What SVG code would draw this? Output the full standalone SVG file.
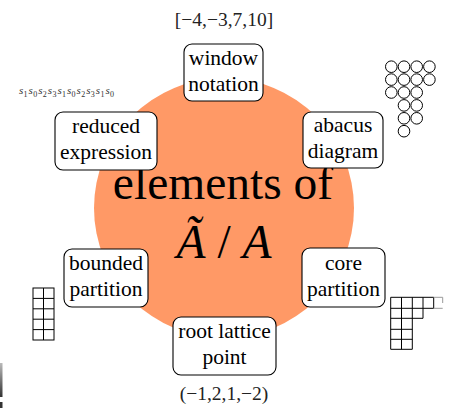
<svg xmlns="http://www.w3.org/2000/svg" width="449" height="408" viewBox="0 0 449 408">
<style>
.box{fill:#fff;stroke:#000;stroke-width:1.1}
.lbl{font-family:"Liberation Serif","Times New Roman",serif;font-size:21.5px;fill:#000;text-anchor:middle}
.big{font-family:"Liberation Serif","Times New Roman",serif;font-size:47.5px;fill:#000;text-anchor:middle}
.ann{font-family:"Liberation Serif","Times New Roman",serif;font-size:19.5px;fill:#222;text-anchor:middle}
.red{font-family:"Liberation Serif","Times New Roman",serif;font-size:11px;font-style:italic;fill:#333}
.bead{fill:#fff;stroke:#000;stroke-width:1}
.grid{fill:none;stroke:#000;stroke-width:1}
</style>
<defs>
<linearGradient id="bar" x1="0" y1="0" x2="0" y2="1">
<stop offset="0" stop-color="#bbb"/><stop offset="1" stop-color="#333"/>
</linearGradient>
</defs>
<rect width="449" height="408" fill="#fff"/>
<circle cx="224" cy="208" r="130" fill="#FF9966"/>
<g id="center">
<text class="big" x="223" y="199">elements of</text>
<text class="big" x="224" y="258"><tspan font-style="italic">Ã</tspan> / <tspan font-style="italic">A</tspan></text>
</g>
<g id="connectors"></g>
<g id="window">
<rect class="box" x="184" y="44" width="79" height="57" rx="8"/>
<text class="lbl" x="223.5" y="64.5">window</text>
<text class="lbl" x="223.5" y="90.5">notation</text>
</g>
<g id="reduced">
<rect class="box" x="55" y="112" width="102" height="58" rx="8"/>
<text class="lbl" x="106" y="133">reduced</text>
<text class="lbl" x="106" y="159">expression</text>
</g>
<g id="abacus">
<rect class="box" x="303" y="112" width="80" height="56" rx="8"/>
<text class="lbl" x="343" y="132">abacus</text>
<text class="lbl" x="343" y="158">diagram</text>
</g>
<g id="bounded">
<rect class="box" x="64" y="249" width="84" height="58" rx="8"/>
<text class="lbl" x="106" y="270">bounded</text>
<text class="lbl" x="106" y="296">partition</text>
</g>
<g id="core">
<rect class="box" x="302" y="248" width="83" height="59" rx="8"/>
<text class="lbl" x="343.5" y="269.5">core</text>
<text class="lbl" x="343.5" y="295.5">partition</text>
</g>
<g id="root">
<rect class="box" x="173" y="317" width="103" height="58" rx="8"/>
<text class="lbl" x="224.5" y="338">root lattice</text>
<text class="lbl" x="224.5" y="364">point</text>
</g>
<g id="window-value"><text class="ann" x="224" y="26">[−4,−3,7,10]</text></g>
<g id="root-value"><text class="ann" x="224" y="400">(−1,2,1,−2)</text></g>
<g id="reduced-value">
<text class="red" y="94"><tspan x="19">s</tspan><tspan x="23.6" dy="2.5" font-size="8" font-style="normal">1</tspan><tspan x="28.6" dy="-2.5">s</tspan><tspan x="33.2" dy="2.5" font-size="8" font-style="normal">0</tspan><tspan x="38.2" dy="-2.5">s</tspan><tspan x="42.8" dy="2.5" font-size="8" font-style="normal">2</tspan><tspan x="47.8" dy="-2.5">s</tspan><tspan x="52.4" dy="2.5" font-size="8" font-style="normal">3</tspan><tspan x="57.4" dy="-2.5">s</tspan><tspan x="62" dy="2.5" font-size="8" font-style="normal">1</tspan><tspan x="67" dy="-2.5">s</tspan><tspan x="71.6" dy="2.5" font-size="8" font-style="normal">0</tspan><tspan x="76.6" dy="-2.5">s</tspan><tspan x="81.2" dy="2.5" font-size="8" font-style="normal">2</tspan><tspan x="86.2" dy="-2.5">s</tspan><tspan x="90.8" dy="2.5" font-size="8" font-style="normal">3</tspan><tspan x="95.8" dy="-2.5">s</tspan><tspan x="100.4" dy="2.5" font-size="8" font-style="normal">1</tspan><tspan x="105.4" dy="-2.5">s</tspan><tspan x="110" dy="2.5" font-size="8" font-style="normal">0</tspan></text>
</g>
<g id="abacus-beads">
<circle class="bead" cx="391.3" cy="66.7" r="5.8"/><circle class="bead" cx="404" cy="66.7" r="5.8"/><circle class="bead" cx="416.7" cy="66.7" r="5.8"/><circle class="bead" cx="429.4" cy="66.7" r="5.8"/>
<circle class="bead" cx="391.3" cy="79.6" r="5.8"/><circle class="bead" cx="404" cy="79.6" r="5.8"/><circle class="bead" cx="416.7" cy="79.6" r="5.8"/><circle class="bead" cx="429.4" cy="79.6" r="5.8"/>
<circle class="bead" cx="391.3" cy="92.5" r="5.8"/><circle class="bead" cx="404" cy="92.5" r="5.8"/><circle class="bead" cx="416.7" cy="92.5" r="5.8"/>
<circle class="bead" cx="404" cy="105.4" r="5.8"/><circle class="bead" cx="416.7" cy="105.4" r="5.8"/>
<circle class="bead" cx="404" cy="118.3" r="5.8"/><circle class="bead" cx="416.7" cy="118.3" r="5.8"/>
<circle class="bead" cx="404" cy="131.2" r="5.8"/>
</g>
<g id="bounded-grid" class="grid">
<rect x="33" y="288" width="21" height="52"/>
<path d="M43.5 288V340M33 298.4H54M33 308.8H54M33 319.2H54M33 329.6H54"/>
</g>
<g id="core-grid" class="grid">
<path d="M390.7 297.3H433.7M390.7 308.3H433.7M390.7 318.3H423M390.7 329.3H412.3M390.7 339.3H412.3M390.7 349.3H412.3"/>
<path d="M390.7 297.3V349.3M401.5 297.3V349.3M412.3 297.3V349.3M423 297.3V318.3M433.7 297.3V308.3"/>
<path d="M433.7 297.3H442.7M433.7 308.3H442.7M442.7 297.3V303" stroke="#999"/>
</g>
<g id="edge-marks">
<rect x="0" y="363" width="2.5" height="34" fill="url(#bar)"/>
<rect x="0" y="402" width="2.5" height="6" fill="#333"/>
</g>
</svg>
